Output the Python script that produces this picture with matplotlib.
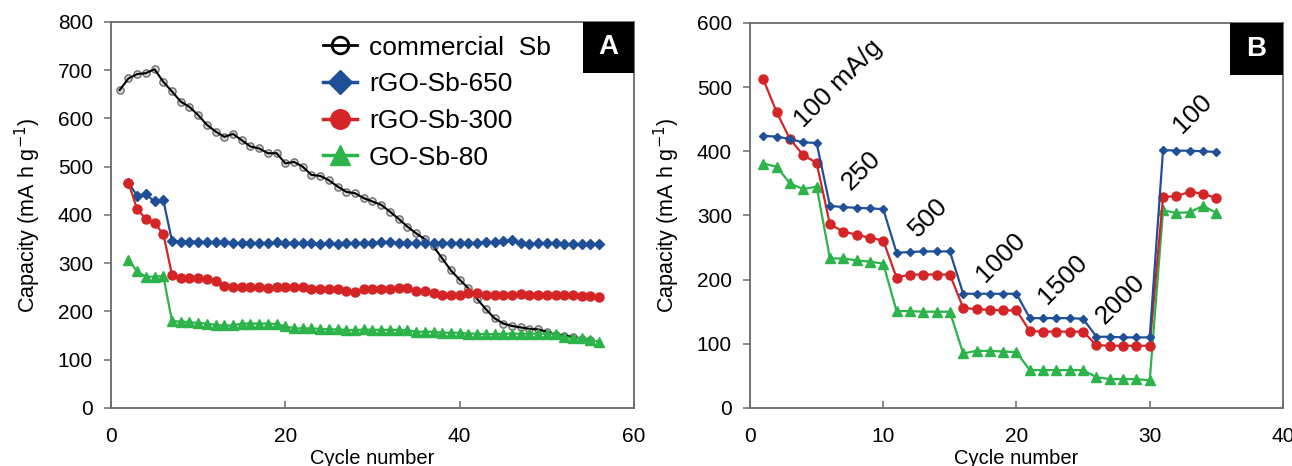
import matplotlib
matplotlib.use("Agg")
import matplotlib.pyplot as plt
from matplotlib.lines import Line2D
from matplotlib.patches import Rectangle
import numpy as np

plt.rcParams['font.family'] = ['Liberation Sans', 'DejaVu Sans']

# ---- panel A: long-term cycling at constant current ----
cycles_sb = np.arange(1, 56)
commercial_sb = [659, 683, 692, 694, 702, 676, 656, 635, 624, 607,
                 587, 573, 562, 568, 555, 542, 538, 528, 528, 507,
                 510, 500, 483, 481, 472, 459, 448, 445, 435, 428,
                 421, 407, 392, 376, 362, 350, 335, 310, 285, 266,
                 248, 226, 205, 186, 175, 170, 167, 164, 163, 158,
                 152, 150, 147, 144, 141]

cycles_go = np.arange(2, 57)
rgo_sb_650 = [467, 440, 443, 428, 431, 346, 345, 345, 344, 344,
              343, 343, 342, 341, 341, 341, 342, 343, 342, 342,
              341, 341, 340, 341, 340, 341, 341, 342, 342, 343,
              343, 342, 342, 341, 341, 342, 341, 341, 341, 342,
              342, 343, 344, 346, 348, 341, 340, 341, 342, 341,
              340, 340, 340, 340, 340]
rgo_sb_300 = [467, 412, 392, 383, 361, 276, 270, 270, 269, 267,
              264, 253, 251, 251, 250, 250, 248, 251, 251, 251,
              250, 246, 246, 246, 246, 243, 241, 246, 246, 247,
              247, 248, 248, 242, 242, 238, 235, 235, 235, 238,
              238, 235, 235, 235, 235, 236, 235, 235, 235, 235,
              235, 235, 233, 233, 231]
go_sb_80 = [307, 283, 272, 272, 274, 180, 179, 178, 176, 175,
            172, 171, 171, 175, 175, 175, 175, 174, 169, 165,
            165, 165, 164, 163, 163, 162, 161, 163, 162, 162,
            162, 162, 161, 158, 158, 158, 156, 156, 156, 154,
            154, 153, 153, 154, 154, 154, 154, 154, 154, 154,
            147, 145, 145, 141, 137]

# ---- panel B: rate capability ----
cycles_rate = np.arange(1, 36)
rate_650 = [424, 423, 419, 414, 413, 315, 313, 312, 311, 310,
            242, 243, 244, 244, 244, 178, 178, 178, 178, 178,
            140, 140, 140, 140, 139, 111, 111, 110, 110, 110,
            402, 401, 401, 400, 399]
rate_300 = [512, 461, 419, 394, 382, 286, 275, 270, 265, 261,
            203, 208, 208, 208, 208, 156, 154, 153, 152, 152,
            120, 119, 119, 119, 119, 98, 97, 97, 97, 97,
            329, 330, 337, 334, 327]
rate_80 = [381, 376, 350, 341, 345, 233, 233, 230, 228, 225,
           151, 151, 150, 150, 150, 85, 89, 89, 88, 87,
           59, 59, 59, 59, 59, 48, 45, 45, 45, 43,
           308, 304, 305, 315, 304]

rate_labels = ['100 mA/g', '250', '500', '1000', '1500', '2000', '100']
rate_label_x = [6.6, 8.35, 13.4, 18.8, 23.5, 27.8, 33.2]
rate_label_y = [506, 370, 297, 235, 200, 169, 459]

BLUE = '#1f4f97'
RED = '#d42426'
GREEN = '#2cb34a'
SPINE = '#6a6a6a'

fig = plt.figure(figsize=(12.92, 4.66), dpi=100)
axA = fig.add_axes([0.0859, 0.1245, 0.4048, 0.8283])
axB = fig.add_axes([0.5805, 0.1245, 0.4125, 0.8262])


def style_axes(ax):
    for sp in ax.spines.values():
        sp.set_color(SPINE)
        sp.set_linewidth(1.3)
    ax.tick_params(axis='y', direction='out', length=5, width=1.1,
                   color=SPINE, labelsize=15, pad=8)
    ax.tick_params(axis='x', direction='in', length=5, width=1.1,
                   color=SPINE, labelsize=15, pad=14)
    ax.set_xlabel('Cycle number', fontsize=14.5, labelpad=2)
    ax.set_ylabel('Capacity (mA h g$^{-1}$)', fontsize=15.5, labelpad=11)


def panel_tag(ax, letter, w, h):
    ax.add_patch(Rectangle((1 - w, 1 - h), w, h, transform=ax.transAxes,
                           facecolor='black', edgecolor='none', zorder=5,
                           clip_on=False))
    ax.text(1 - w / 2, 1 - h / 2, letter, transform=ax.transAxes,
            color='white', fontsize=20, fontweight='bold',
            ha='center', va='center', zorder=6)


# panel A
axA.plot(cycles_sb, commercial_sb, ls='none', marker='o', ms=5.2,
         mfc='#d8d8d8', mec='#6e6e6e', mew=1.0, zorder=2)
axA.plot(cycles_sb, commercial_sb, color='black', lw=1.5, zorder=3)
axA.plot(cycles_go, rgo_sb_650, color=BLUE, lw=1.6, marker='D', ms=5.5,
         zorder=4)
axA.plot(cycles_go, rgo_sb_300, color=RED, lw=1.6, marker='o', ms=6.5,
         zorder=4)
axA.plot(cycles_go, go_sb_80, color=GREEN, lw=1.6, marker='^', ms=6.5,
         zorder=4)

axA.set_xlim(0, 60)
axA.set_ylim(0, 800)
axA.set_xticks([0, 20, 40, 60])
axA.set_yticks(np.arange(0, 801, 100))
style_axes(axA)

handles = [
    Line2D([], [], color='black', lw=2, marker='o', ms=12, mfc='none',
           mec='black', mew=2),
    Line2D([], [], color=BLUE, lw=2.5, marker='D', ms=12),
    Line2D([], [], color=RED, lw=2.5, marker='o', ms=14),
    Line2D([], [], color=GREEN, lw=2.5, marker='^', ms=14),
]
labels = ['commercial  Sb', 'rGO-Sb-650', 'rGO-Sb-300', 'GO-Sb-80']
axA.legend(handles, labels, loc='upper left', bbox_to_anchor=(0.405, 0.965),
           frameon=False, fontsize=19, handlelength=1.3, handletextpad=0.45,
           labelspacing=0.48, borderpad=0, borderaxespad=0)
panel_tag(axA, 'A', 0.0975, 0.132)

# panel B
axB.plot(cycles_rate, rate_650, color=BLUE, lw=1.6, marker='D', ms=4.5,
         zorder=4)
axB.plot(cycles_rate, rate_300, color=RED, lw=1.6, marker='o', ms=6.5,
         zorder=3)
axB.plot(cycles_rate, rate_80, color=GREEN, lw=1.6, marker='^', ms=6.5,
         zorder=2)

for txt, tx, ty in zip(rate_labels, rate_label_x, rate_label_y):
    axB.text(tx, ty, txt, rotation=45, fontsize=19, ha='center',
             va='center', rotation_mode='anchor')

axB.set_xlim(0, 40)
axB.set_ylim(0, 600)
axB.set_xticks(np.arange(0, 41, 10))
axB.set_yticks(np.arange(0, 601, 100))
style_axes(axB)
panel_tag(axB, 'B', 0.0995, 0.135)

fig.savefig('out.png', dpi=100)
